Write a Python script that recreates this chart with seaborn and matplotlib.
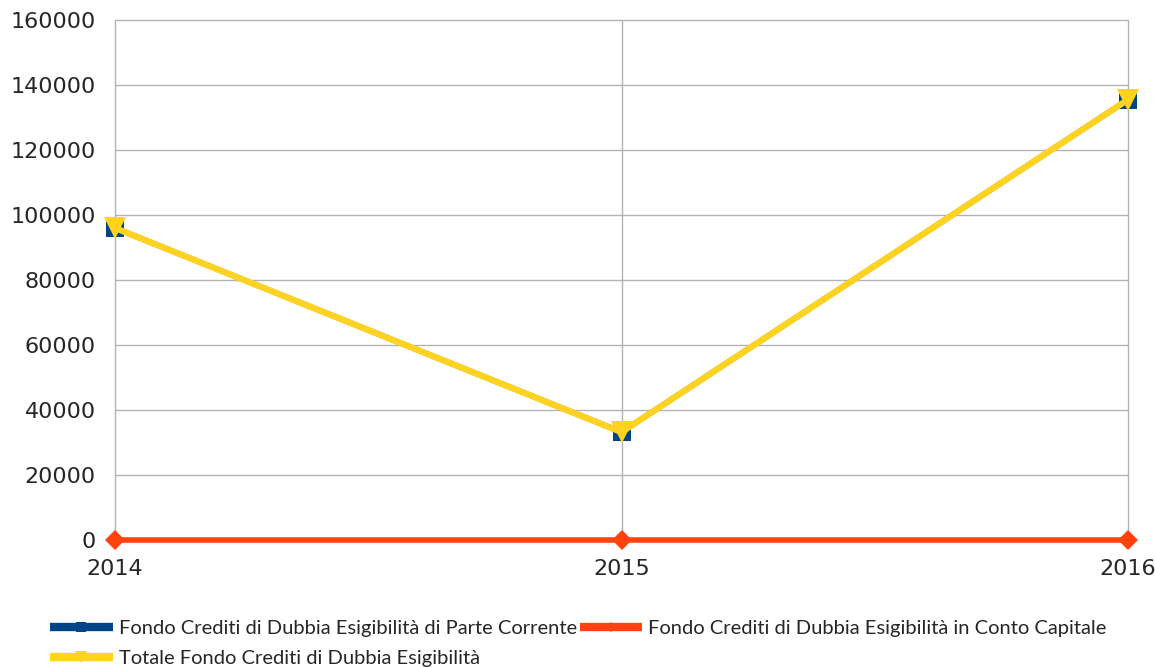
import pandas as pd
import numpy as np
import matplotlib.pyplot as plt
import seaborn as sns

sns.set_style("white")
plt.rcParams['font.family'] = ['DejaVu Sans']

years = [2014, 2015, 2016]
parte_corrente = [96000, 33200, 135500]
conto_capitale = [0, 0, 0]
totale = [96000, 33200, 135500]

labels = [
    'Fondo Crediti di Dubbia Esigibilità di Parte Corrente',
    'Fondo Crediti di Dubbia Esigibilità in Conto Capitale',
    'Totale Fondo Crediti di Dubbia Esigibilità',
]
colors = ['#004586', '#ff420e', '#ffd320']

fig = plt.figure(figsize=(11.55, 6.67), dpi=100)
ax = fig.add_axes([0.0996, 0.1904, 0.877, 0.7796])

sns.lineplot(x=years, y=parte_corrente, ax=ax, color=colors[0], linewidth=4,
             marker='s', markersize=13.5, markeredgewidth=0, label=labels[0],
             clip_on=False, zorder=3)
sns.lineplot(x=years, y=conto_capitale, ax=ax, color=colors[1], linewidth=4,
             marker='D', markersize=10, markeredgewidth=0, label=labels[1],
             clip_on=False, zorder=4)
sns.lineplot(x=years, y=totale, ax=ax, color=colors[2], linewidth=4.5,
             marker='v', markersize=16, markeredgewidth=0, label=labels[2],
             clip_on=False, zorder=5)

ax.set_xlim(2014, 2016)
ax.set_ylim(0, 160000)
ax.set_xticks(years)
ax.set_xticklabels([str(y) for y in years])
ax.set_yticks(np.arange(0, 160001, 20000))
ax.grid(True, color='#b3b3b3', linewidth=1)
for gl in ax.get_xgridlines() + ax.get_ygridlines():
    gl.set_clip_on(False)
for s in ax.spines.values():
    s.set_visible(False)
ax.tick_params(axis='y', length=10, color='#b3b3b3', labelsize=16, pad=4)
ax.tick_params(axis='x', length=0, labelsize=16, pad=14)

handles, lbls = ax.get_legend_handles_labels()
order = [0, 2, 1]
leg = ax.legend([handles[i] for i in order], [lbls[i] for i in order],
                ncol=2, loc='upper left', bbox_to_anchor=(-0.064, -0.153),
                frameon=False, prop={'family': 'Lato', 'size': 14.5},
                handlelength=3.1, handletextpad=0.3, columnspacing=0.15,
                labelspacing=0.65, markerscale=0.5, borderaxespad=0,
                borderpad=0)
for line in leg.get_lines():
    line.set_linewidth(6)
    line.set_solid_capstyle('butt')

fig.savefig('out.png', dpi=100)
